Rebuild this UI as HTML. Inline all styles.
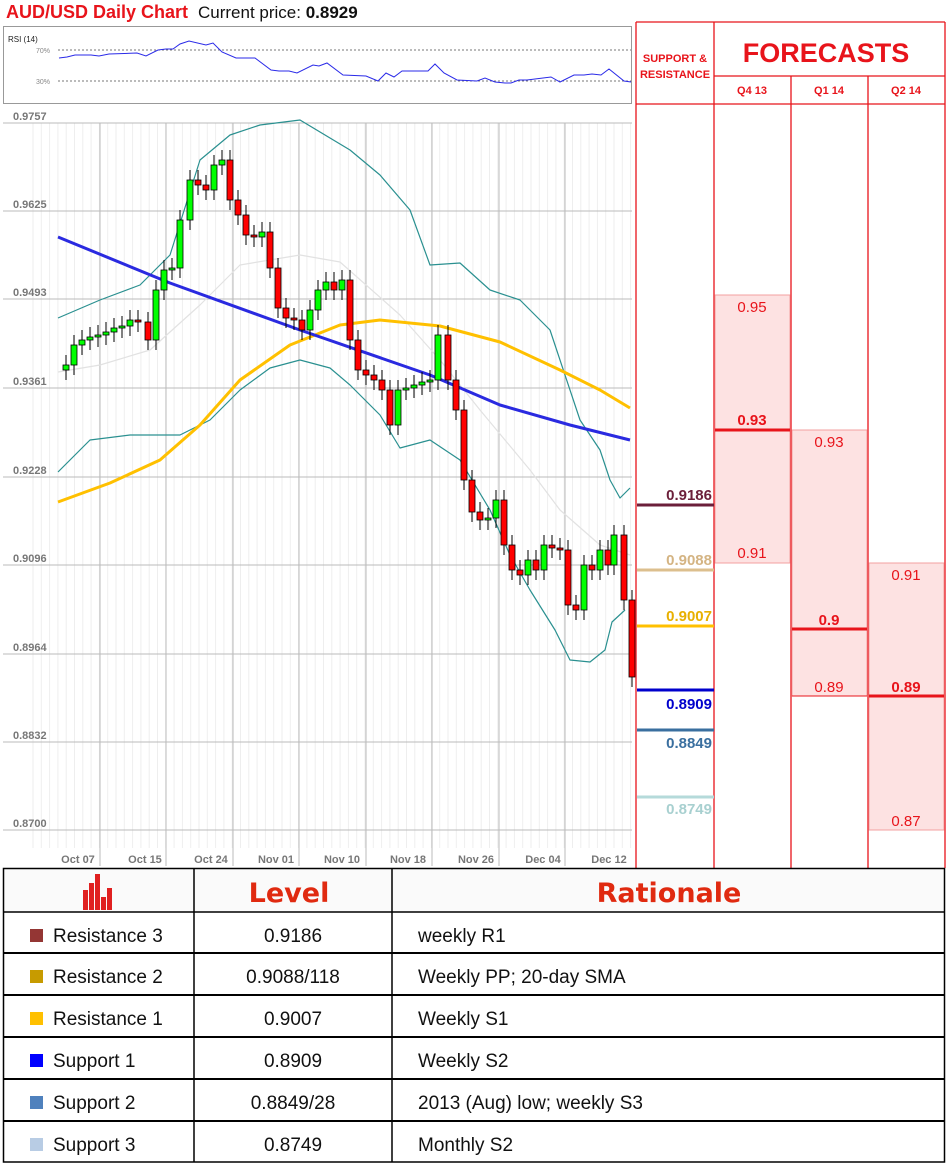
<!DOCTYPE html>
<html><head><meta charset="utf-8"><style>
body{margin:0;background:#fff;width:951px;height:1164px;overflow:hidden;font-family:"Liberation Sans",sans-serif}
svg{position:absolute;left:0;top:0}
</style></head><body>
<svg id="s" width="951" height="1164" xmlns="http://www.w3.org/2000/svg" font-family="Liberation Sans, sans-serif">
<text x="6" y="18" font-size="18" fill="#e8141b" font-weight="bold">AUD/USD Daily Chart</text>
<text x="198" y="18" font-size="17" fill="#111">Current price: <tspan font-weight="bold">0.8929</tspan></text>
<!-- RSI panel -->
<rect x="3.5" y="26.5" width="628" height="77" fill="#fff" stroke="#999"/>
<text x="8" y="42" font-size="8" fill="#222">RSI (14)</text>
<line x1="58" y1="50" x2="631" y2="50" stroke="#777" stroke-dasharray="2,2"/>
<line x1="58" y1="81" x2="631" y2="81" stroke="#777" stroke-dasharray="2,2"/>
<text x="36" y="53" font-size="7" fill="#888">70%</text>
<text x="36" y="84" font-size="7" fill="#888">30%</text>
<polyline fill="none" stroke="#2a2ae8" stroke-width="1" points="59,58 67,57 75,55 91,55 99,56 109,54 137,53 146,56 158,50 166,49 173,49 180,44 189,41 206,45 213,43 222,52 236,58 255,58 271,70 279,71 289,71 297,73 313,65 319,66 327,63 343,75 366,76 378,81 386,73 394,77 402,71 428,71 435,64 444,73 457,80 477,81 485,78 495,82 505,83 511,83 519,80 527,80 535,79 551,77 560,82 574,75 584,75 592,74 601,75 609,69 624,81 631,82"/>
<!-- main chart -->
<g id="grid"></g>
<g id="price" font-size="11" fill="#777" font-weight="bold"></g>
<g id="lines"></g>
<g id="candles"></g>
<!-- right panel -->
<g stroke="#e8141b" stroke-width="1.3" fill="none">
<line x1="636" y1="22" x2="945" y2="22"/>
<line x1="636" y1="22" x2="636" y2="868"/>
<line x1="714" y1="22" x2="714" y2="868"/>
<line x1="791" y1="76" x2="791" y2="868"/>
<line x1="868" y1="76" x2="868" y2="868"/>
<line x1="945" y1="22" x2="945" y2="868"/>
<line x1="714" y1="76" x2="945" y2="76"/>
<line x1="636" y1="104" x2="945" y2="104"/>
</g>
<g fill="#e8141b" font-weight="bold" text-anchor="middle">
<text x="675" y="62" font-size="11">SUPPORT &amp;</text>
<text x="675" y="78" font-size="11">RESISTANCE</text>
<text x="826" y="62" font-size="27">FORECASTS</text>
<text x="752" y="94" font-size="11">Q4 13</text>
<text x="829" y="94" font-size="11">Q1 14</text>
<text x="906" y="94" font-size="11">Q2 14</text>
</g>
<!-- S&R levels -->
<g font-weight="bold" font-size="15" text-anchor="end">
<line x1="637" y1="505" x2="714" y2="505" stroke="#6b1f3a" stroke-width="3"/><text x="712" y="500" fill="#6b1f3a">0.9186</text>
<line x1="637" y1="570" x2="714" y2="570" stroke="#dcbf8e" stroke-width="3"/><text x="712" y="565" fill="#d4b483">0.9088</text>
<line x1="637" y1="626" x2="714" y2="626" stroke="#ffc000" stroke-width="3"/><text x="712" y="621" fill="#e8b000">0.9007</text>
<line x1="637" y1="690" x2="714" y2="690" stroke="#0000cc" stroke-width="3"/><text x="712" y="709" fill="#0000cc">0.8909</text>
<line x1="637" y1="730" x2="714" y2="730" stroke="#3a6f9f" stroke-width="3"/><text x="712" y="748" fill="#3a6f9f">0.8849</text>
<line x1="637" y1="797" x2="714" y2="797" stroke="#b5dada" stroke-width="3"/><text x="712" y="814" fill="#a8d0d0">0.8749</text>
</g>
<!-- forecasts -->
<g fill="#fde2e2" stroke="#f3a0a0" stroke-width="1">
<rect x="715" y="295" width="75" height="268"/>
<rect x="792" y="430" width="75" height="266"/>
<rect x="869" y="563" width="75" height="267"/>
</g>
<g stroke="#e8141b" stroke-width="3">
<line x1="715" y1="430" x2="790" y2="430"/>
<line x1="792" y1="629" x2="867" y2="629"/>
<line x1="869" y1="696" x2="944" y2="696"/>
<line x1="792" y1="696" x2="867" y2="696" stroke-width="1"/>
</g>
<g fill="#e8141b" font-size="15" text-anchor="middle">
<text x="752" y="312">0.95</text>
<text x="752" y="425" font-weight="bold">0.93</text>
<text x="752" y="558">0.91</text>
<text x="829" y="447">0.93</text>
<text x="829" y="625" font-weight="bold">0.9</text>
<text x="829" y="692">0.89</text>
<text x="906" y="580">0.91</text>
<text x="906" y="692" font-weight="bold">0.89</text>
<text x="906" y="826">0.87</text>
</g>
<!-- table -->
<rect x="3" y="868" width="942" height="44" fill="#fafafa"/>
<g stroke="#000" stroke-width="1.5">
<rect x="3.5" y="868.5" width="941" height="293.5" fill="none"/>
<line x1="194" y1="868" x2="194" y2="1162"/>
<line x1="392" y1="868" x2="392" y2="1162"/>
<line x1="3" y1="912" x2="945" y2="912"/>
<line x1="3" y1="953" x2="945" y2="953" stroke-width="2"/>
<line x1="3" y1="995" x2="945" y2="995" stroke-width="2"/>
<line x1="3" y1="1037" x2="945" y2="1037" stroke-width="2"/>
<line x1="3" y1="1079" x2="945" y2="1079" stroke-width="2"/>
<line x1="3" y1="1121" x2="945" y2="1121" stroke-width="2"/>
</g>
<g fill="#e02020">
<rect x="83" y="890" width="5" height="20"/><rect x="89" y="883" width="5" height="27"/><rect x="95" y="874" width="5" height="36"/><rect x="101" y="897" width="5" height="13"/><rect x="107" y="888" width="5" height="22"/>
</g>
<text x="289" y="902" font-size="27" font-weight="900" fill="#e02a10" text-anchor="middle" font-family="DejaVu Sans, sans-serif">Level</text>
<text x="669" y="902" font-size="27" font-weight="900" fill="#e02a10" text-anchor="middle" font-family="DejaVu Sans, sans-serif">Rationale</text>
<g font-size="19" fill="#111">
<rect x="30" y="929" width="13" height="13" fill="#943634"/><text x="53" y="942">Resistance 3</text><text x="293" y="942" text-anchor="middle">0.9186</text><text x="418" y="942">weekly R1</text>
<rect x="30" y="970" width="13" height="13" fill="#c79b00"/><text x="53" y="983">Resistance 2</text><text x="293" y="983" text-anchor="middle">0.9088/118</text><text x="418" y="983">Weekly PP; 20-day SMA</text>
<rect x="30" y="1012" width="13" height="13" fill="#ffc000"/><text x="53" y="1025">Resistance 1</text><text x="293" y="1025" text-anchor="middle">0.9007</text><text x="418" y="1025">Weekly S1</text>
<rect x="30" y="1054" width="13" height="13" fill="#0000ff"/><text x="53" y="1067">Support 1</text><text x="293" y="1067" text-anchor="middle">0.8909</text><text x="418" y="1067">Weekly S2</text>
<rect x="30" y="1096" width="13" height="13" fill="#4f81bd"/><text x="53" y="1109">Support 2</text><text x="293" y="1109" text-anchor="middle">0.8849/28</text><text x="418" y="1109">2013 (Aug) low; weekly S3</text>
<rect x="30" y="1138" width="13" height="13" fill="#b8cce4"/><text x="53" y="1151">Support 3</text><text x="293" y="1151" text-anchor="middle">0.8749</text><text x="418" y="1151">Monthly S2</text>
</g>
</svg>
<script>
var NS="http://www.w3.org/2000/svg";
function el(p,t,a,txt){var e=document.createElementNS(NS,t);for(var k in a)e.setAttribute(k,a[k]);if(txt)e.textContent=txt;document.getElementById(p).appendChild(e);return e;}
// minor grid
for(var x=33;x<632;x+=8.3){el("grid","line",{x1:x,y1:123,x2:x,y2:848,stroke:"#eee","stroke-width":1});}
var hy=[123,211,299,388,477,565,654,742,830];
var pl=["0.9757","0.9625","0.9493","0.9361","0.9228","0.9096","0.8964","0.8832","0.8700"];
hy.forEach(function(y,i){el("grid","line",{x1:3,y1:y,x2:632,y2:y,stroke:"#bbb"});el("price","text",{x:13,y:y-3},pl[i]);});
[100,166,233,299,366,432,499,565].forEach(function(x){el("grid","line",{x1:x,y1:123,x2:x,y2:866,stroke:"#bbb"});});
var dl=["Oct 07","Oct 15","Oct 24","Nov 01","Nov 10","Nov 18","Nov 26","Dec 04","Dec 12"];
[78,145,211,276,342,408,476,543,609].forEach(function(x,i){el("price","text",{x:x,y:863,"text-anchor":"middle"},dl[i]);});
function pl2(pts,c,w){el("lines","polyline",{points:pts,fill:"none",stroke:c,"stroke-width":w,"stroke-linejoin":"round"});}
pl2("58,372 100,365 150,350 200,305 240,265 300,255 340,262 400,315 440,360 480,410 530,470 560,510 600,545 630,555","#e2e2e2",1.2);
pl2("58,318 100,300 140,285 170,255 200,160 230,135 260,125 300,120 350,150 380,175 410,210 430,265 460,263 490,290 520,300 550,330 580,420 600,450 610,480 620,498 630,488","#2a9090",1.2);
pl2("58,472 90,440 130,435 180,435 210,420 240,390 270,368 300,360 330,368 350,385 380,415 400,448 430,440 460,460 490,510 510,555 530,590 555,630 570,660 590,662 605,650 612,622 625,610","#2a9090",1.2);
pl2("58,502 110,483 160,460 200,425 240,380 290,345 340,325 380,320 440,326 500,342 560,370 600,390 630,408","#ffc000",3);
pl2("58,237 170,283 300,330 430,375 500,405 570,425 630,440","#2a2ae0",3);
var c=[[58,370],[66,365],[74,345],[82,340],[90,337],[98,335],[106,332],[114,328],[122,326],[130,320],[138,322],[148,340],[156,290],[164,270],[172,268],[180,220],[190,180],[198,185],[206,190],[214,165],[222,160],[230,200],[238,215],[246,235],[254,237],[262,232],[270,268],[278,308],[286,318],[294,320],[302,330],[310,310],[318,290],[326,282],[334,290],[342,280],[350,340],[358,370],[366,375],[374,380],[382,390],[390,425],[398,390],[406,388],[414,385],[422,382],[430,380],[438,335],[448,380],[456,410],[464,480],[472,512],[480,520],[488,518],[496,500],[504,545],[512,570],[520,575],[528,560],[536,570],[544,545],[552,548],[560,550],[568,605],[576,610],[584,565],[592,570],[600,550],[608,565],[614,535],[624,600],[632,677]];
for(var i=1;i<c.length;i++){var o=c[i-1][1],cl=c[i][1],x=c[i][0];var t=Math.min(o,cl),b=Math.max(o,cl);if(b-t<2){b=t+2;}
el("candles","line",{x1:x,y1:t-10,x2:x,y2:b+10,stroke:"#000","stroke-width":1});
el("candles","rect",{x:x-3,y:t,width:6,height:b-t,fill:cl<o?"#00ff00":"#ff0000",stroke:"#000","stroke-width":0.8});}
</script>
</body></html>
